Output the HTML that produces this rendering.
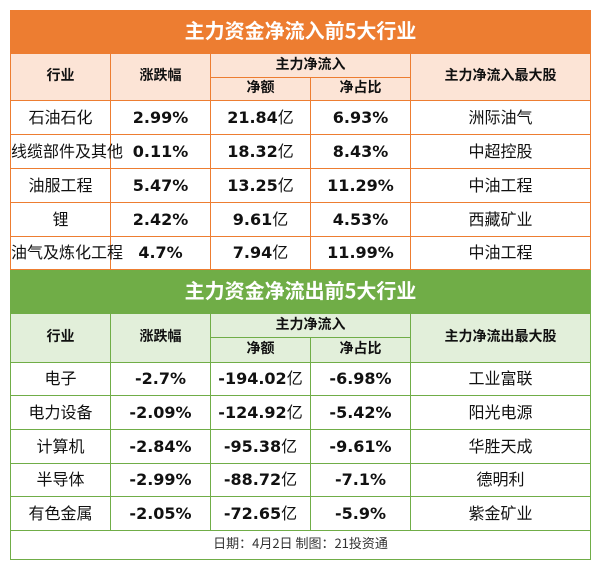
<!DOCTYPE html>
<html><head><meta charset="utf-8"><style>
body{margin:0;background:#fff;width:600px;height:569px;position:relative;font-family:"DejaVu Sans","Noto Sans CJK SC",sans-serif;overflow:hidden;}
table{position:absolute;left:10px;width:580px;border-collapse:collapse;table-layout:fixed;}
td{text-align:center;padding:0;font-size:16px;line-height:0;color:#111;white-space:nowrap;overflow:visible;vertical-align:middle;}
td>span{display:inline-block;line-height:22px;height:22px;vertical-align:middle;}
td>span>i{font-style:normal;font-weight:normal;font-family:"Noto Sans CJK SC",sans-serif;display:inline-block;height:22px;line-height:22px;vertical-align:top;position:relative;top:-2px;}
.o td{border:1px solid #ed7d31;}
.g td{border:1px solid #70ad47;}
td.t{color:#fff;font-weight:bold;font-size:20px;}
.o td.t{background:#ed7d31;}
.g td.t{background:#70ad47;}
.o .h td{background:#fce4d6;font-weight:bold;font-size:14px;}
.g .h td{background:#e2efda;font-weight:bold;font-size:14px;}
.n{font-weight:bold;}
.f{font-size:13px;color:#333;}
.c{font-family:"Noto Sans CJK SC",sans-serif;}
.c>span{line-height:22px;position:relative;top:-2px;}
</style></head><body>
<table class="o" style="top:10px">
<colgroup><col style="width:100px"><col style="width:100px"><col style="width:100px"><col style="width:100px"><col style="width:180px"></colgroup>
<tr style="height:43px"><td class="t c" colspan="5"><span>主力资金净流入前5大行业</span></td></tr>
<tr class="h" style="height:24px"><td class="c" rowspan="2"><span>行业</span></td><td class="c" rowspan="2"><span>涨跌幅</span></td><td class="c" colspan="2"><span>主力净流入</span></td><td class="c" rowspan="2"><span>主力净流入最大股</span></td></tr>
<tr class="h" style="height:23px"><td class="c"><span>净额</span></td><td class="c"><span>净占比</span></td></tr>
<tr style="height:34px"><td class="c"><span>石油石化</span></td><td class="n"><span>2.99%</span></td><td class="n"><span>21.84<i>亿</i></span></td><td class="n"><span>6.93%</span></td><td class="c"><span>洲际油气</span></td></tr>
<tr style="height:34px"><td class="c"><span>线缆部件及其他</span></td><td class="n"><span>0.11%</span></td><td class="n"><span>18.32<i>亿</i></span></td><td class="n"><span>8.43%</span></td><td class="c"><span>中超控股</span></td></tr>
<tr style="height:34px"><td class="c"><span>油服工程</span></td><td class="n"><span>5.47%</span></td><td class="n"><span>13.25<i>亿</i></span></td><td class="n"><span>11.29%</span></td><td class="c"><span>中油工程</span></td></tr>
<tr style="height:34px"><td class="c"><span>锂</span></td><td class="n"><span>2.42%</span></td><td class="n"><span>9.61<i>亿</i></span></td><td class="n"><span>4.53%</span></td><td class="c"><span>西藏矿业</span></td></tr>
<tr style="height:33px"><td class="c"><span>油气及炼化工程</span></td><td class="n"><span>4.7%</span></td><td class="n"><span>7.94<i>亿</i></span></td><td class="n"><span>11.99%</span></td><td class="c"><span>中油工程</span></td></tr>
</table>
<table class="g" style="top:270px">
<colgroup><col style="width:100px"><col style="width:100px"><col style="width:100px"><col style="width:100px"><col style="width:180px"></colgroup>
<tr style="height:43px"><td class="t c" colspan="5"><span>主力资金净流出前5大行业</span></td></tr>
<tr class="h" style="height:24px"><td class="c" rowspan="2"><span>行业</span></td><td class="c" rowspan="2"><span>涨跌幅</span></td><td class="c" colspan="2"><span>主力净流入</span></td><td class="c" rowspan="2"><span>主力净流出最大股</span></td></tr>
<tr class="h" style="height:25px"><td class="c"><span>净额</span></td><td class="c"><span>净占比</span></td></tr>
<tr style="height:33px"><td class="c"><span>电子</span></td><td class="n"><span>-2.7%</span></td><td class="n"><span>-194.02<i>亿</i></span></td><td class="n"><span>-6.98%</span></td><td class="c"><span>工业富联</span></td></tr>
<tr style="height:34px"><td class="c"><span>电力设备</span></td><td class="n"><span>-2.09%</span></td><td class="n"><span>-124.92<i>亿</i></span></td><td class="n"><span>-5.42%</span></td><td class="c"><span>阳光电源</span></td></tr>
<tr style="height:34px"><td class="c"><span>计算机</span></td><td class="n"><span>-2.84%</span></td><td class="n"><span>-95.38<i>亿</i></span></td><td class="n"><span>-9.61%</span></td><td class="c"><span>华胜天成</span></td></tr>
<tr style="height:33px"><td class="c"><span>半导体</span></td><td class="n"><span>-2.99%</span></td><td class="n"><span>-88.72<i>亿</i></span></td><td class="n"><span>-7.1%</span></td><td class="c"><span>德明利</span></td></tr>
<tr style="height:34px"><td class="c"><span>有色金属</span></td><td class="n"><span>-2.05%</span></td><td class="n"><span>-72.65<i>亿</i></span></td><td class="n"><span>-5.9%</span></td><td class="c"><span>紫金矿业</span></td></tr>
<tr style="height:29px"><td class="f c" colspan="5"><span>日期：4月2日 制图：21投资通</span></td></tr>
</table>
</body></html>
